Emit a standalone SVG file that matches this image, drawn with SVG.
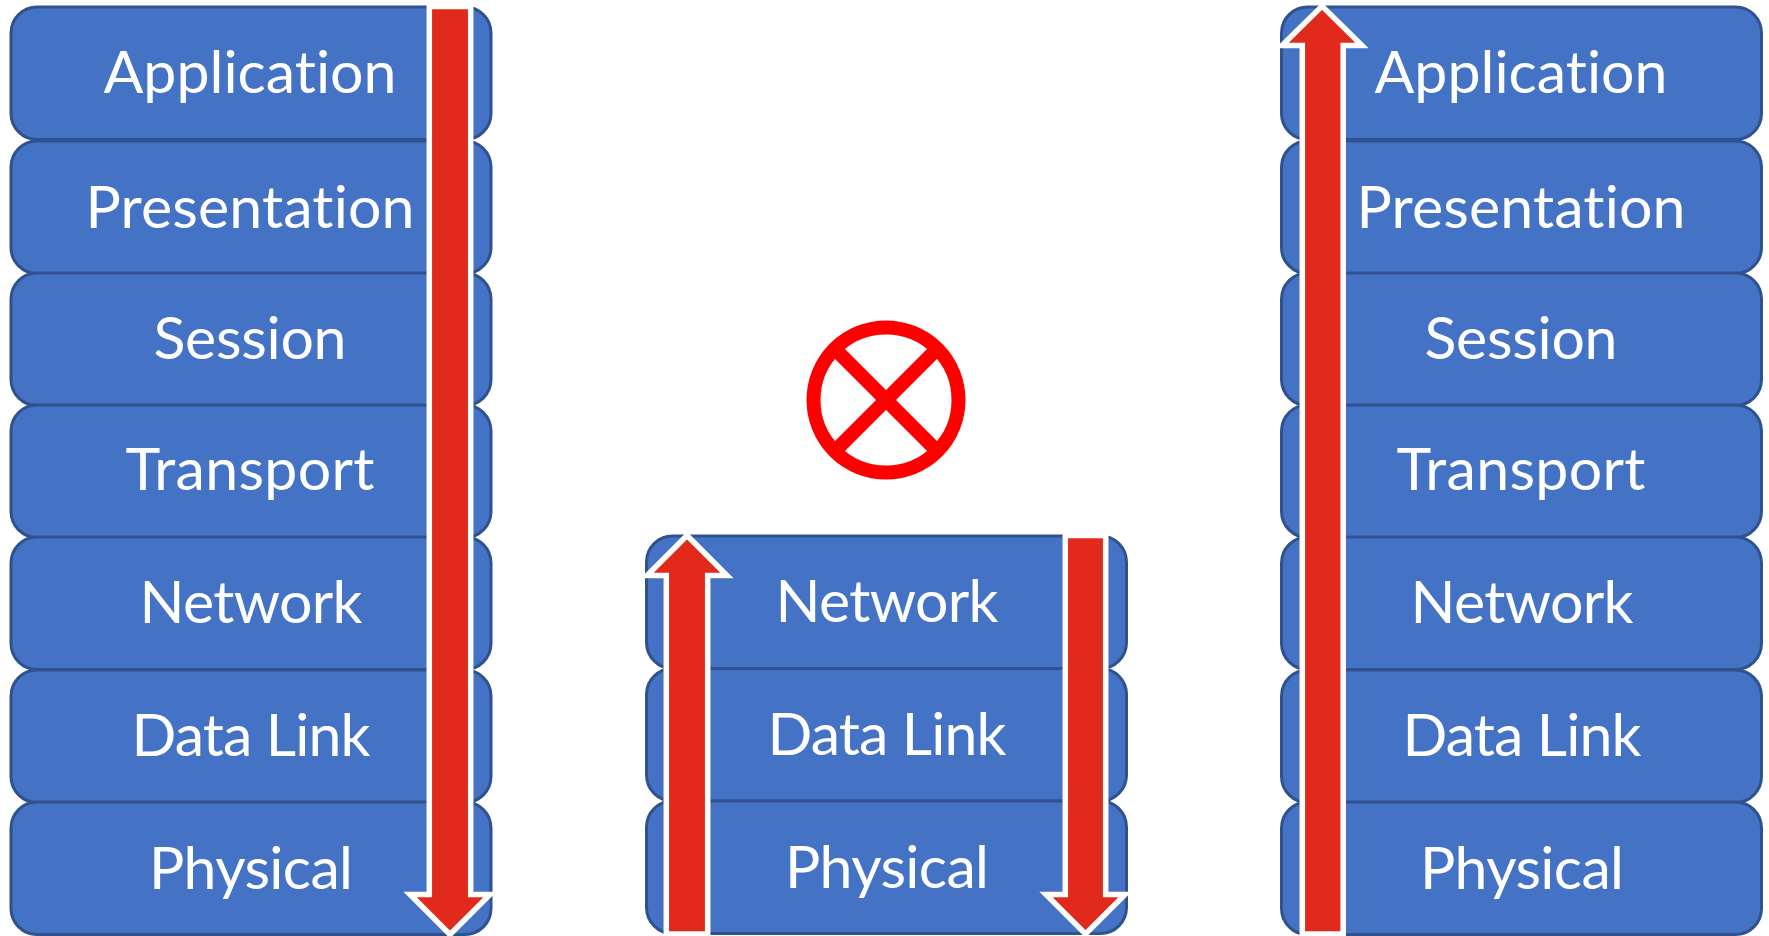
<svg xmlns="http://www.w3.org/2000/svg" width="1769" height="936" viewBox="0 0 1769 936">
<style>
.b{fill:#4472C4;stroke:#2F528F;stroke-width:3}
.t{fill:#fff;font-family:Lato,"Noto Sans",sans-serif;font-size:59px;text-anchor:middle;font-variant-ligatures:none}
.a{fill:#E12A1C;stroke:#fff;stroke-width:5.5;stroke-miterlimit:10}
</style>
<defs>
<rect id="r" class="b" x="0" y="0" width="480" height="132.500" rx="26"/>
</defs>
<rect width="1769" height="936" fill="#fff"/>
<g id="left-stack">
<g id="left-application"><use href="#r" x="11" y="7"/><text class="t" x="250" y="93" textLength="293">Application</text></g>
<g id="left-presentation"><use href="#r" x="11" y="141"/><text class="t" x="250" y="227.500" textLength="329">Presentation</text></g>
<g id="left-session"><use href="#r" x="11" y="273"/><text class="t" x="250" y="359" textLength="193">Session</text></g>
<g id="left-transport"><use href="#r" x="11" y="405"/><text class="t" x="250" y="490" textLength="249">Transport</text></g>
<g id="left-network"><use href="#r" x="11" y="537"/><text class="t" x="251" y="623" textLength="223">Network</text></g>
<g id="left-datalink"><use href="#r" x="11" y="670"/><text class="t" x="251" y="756" textLength="239">Data Link</text></g>
<g id="left-physical"><use href="#r" x="11" y="802"/><text class="t" x="251" y="889" textLength="204">Physical</text></g>
</g>
<g id="middle-stack">
<g id="middle-network"><use href="#r" x="646.500" y="536"/><text class="t" x="887" y="622" textLength="223">Network</text></g>
<g id="middle-datalink"><use href="#r" x="646.500" y="668.500"/><text class="t" x="887" y="755" textLength="239">Data Link</text></g>
<g id="middle-physical"><use href="#r" x="646.500" y="801"/><text class="t" x="887" y="888" textLength="204">Physical</text></g>
</g>
<g id="right-stack">
<g id="right-application"><use href="#r" x="1281.500" y="7"/><text class="t" x="1521" y="93" textLength="293">Application</text></g>
<g id="right-presentation"><use href="#r" x="1281.500" y="141"/><text class="t" x="1521" y="227.500" textLength="329">Presentation</text></g>
<g id="right-session"><use href="#r" x="1281.500" y="273"/><text class="t" x="1521" y="359" textLength="193">Session</text></g>
<g id="right-transport"><use href="#r" x="1281.500" y="405"/><text class="t" x="1521" y="490" textLength="249">Transport</text></g>
<g id="right-network"><use href="#r" x="1281.500" y="537"/><text class="t" x="1522" y="623" textLength="223">Network</text></g>
<g id="right-datalink"><use href="#r" x="1281.500" y="670"/><text class="t" x="1522" y="756" textLength="239">Data Link</text></g>
<g id="right-physical"><use href="#r" x="1281.500" y="802"/><text class="t" x="1522" y="889" textLength="204">Physical</text></g>
</g>
<g id="connectors">
<path id="arrow-left-down" class="a" d="M429.300 6.500H470.700V894.500H490L450 934.500L410 894.500H429.300Z"/>
<path id="arrow-middle-up" class="a" d="M666.300 934V575.500H647L687 535.500L727 575.500H707.700V934Z"/>
<path id="arrow-middle-down" class="a" d="M1065.300 535.500H1105.700V894.500H1125L1085.500 934L1046 894.500H1065.300Z"/>
<path id="arrow-right-up" class="a" d="M1302.300 934V45.500H1282L1322 6L1362 45.500H1343.200V934Z"/>
</g>
<g id="blocked-symbol" fill="none" stroke="#f00">
<circle cx="886" cy="400" r="72.500" stroke-width="14"/>
<path d="M835 349L937 451M937 349L835 451" stroke-width="14"/>
</g>
</svg>
